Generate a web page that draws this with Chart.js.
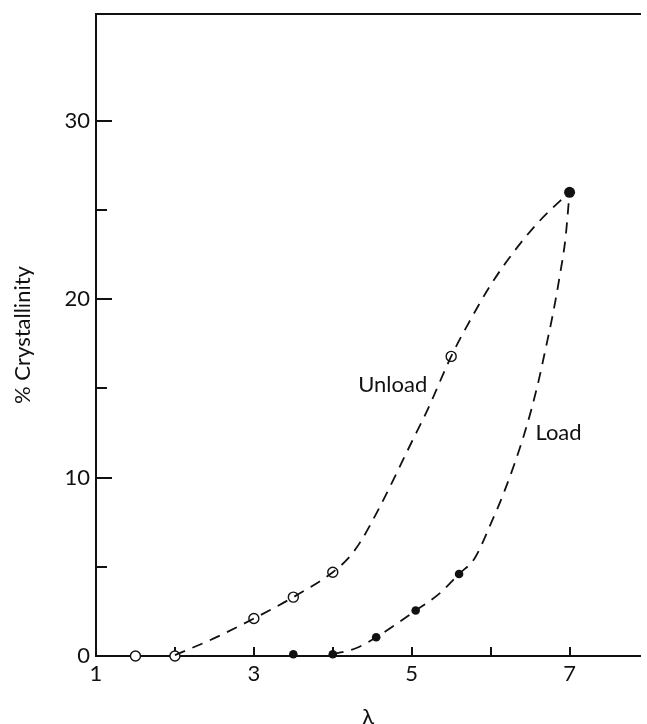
<!DOCTYPE html>
<html>
<head>
<meta charset="utf-8">
<script src="https://cdn.jsdelivr.net/npm/chart.js@4.4.1/dist/chart.umd.min.js"></script>
<style>
  html, body { margin: 0; padding: 0; background: #fff; }
  #wrap { width: 647px; height: 724px; }
</style>
</head>
<body>
<div id="wrap"><canvas id="crystChart" width="647" height="724"></canvas></div>
<script>
// measured points (open = unload, filled = load)
const unloadX = [1.5, 2.0, 3.0, 3.5, 4.0, 5.5];
const unloadY = [0, 0, 2.1, 3.3, 4.7, 16.8];
const loadX = [3.5, 4.0, 4.55, 5.05, 5.6, 7.0];
const loadY = [0.1, 0.1, 1.05, 2.55, 4.6, 26];

// dashed curves as drawn in the figure
const unloadCurveX = [2.0, 2.5, 3.0, 3.5, 4.0, 4.2, 4.35, 4.6, 5.0, 5.2, 5.5, 5.7, 6.0, 6.3, 6.6, 6.85, 7.0];
const unloadCurveY = [0.05, 1.0, 2.1, 3.3, 4.7, 5.5, 6.4, 8.4, 12.0, 13.8, 16.8, 18.5, 20.8, 22.7, 24.3, 25.4, 26];
const loadCurveX = [4.0, 4.3, 4.55, 5.05, 5.35, 5.6, 5.8, 6.0, 6.18, 6.43, 6.59, 6.7, 6.79, 6.875, 6.95, 7.0];
const loadCurveY = [0.1, 0.45, 1.05, 2.55, 3.5, 4.6, 5.5, 7.4, 9.3, 12.5, 15.1, 17.3, 19.2, 21.3, 23.5, 26];

// axis ticks
const xLabelValues = [1, 3, 5, 7];
const xTickValues = [2, 3, 4, 5, 6, 7];
const yLabelValues = [0, 10, 20, 30];
const yTickValues = [5, 10, 15, 20, 25, 30];

// curve names
const curveNames = ['Unload', 'Load'];
const curveNameX = [4.76, 6.86];
const curveNameY = [15.2, 12.5];

const ink = '#111';
const labelFont = { family: 'Lato', size: 22, weight: 'normal' };
const toXY = (xs, ys) => xs.map((x, i) => ({ x: x, y: ys[i] }));

const innerTicks = {
  id: 'innerTicks',
  beforeDatasetsDraw(chart) {
    const { ctx, chartArea, scales: { x, y } } = chart;
    ctx.save();
    ctx.strokeStyle = ink;
    ctx.lineWidth = 2;
    ctx.beginPath();
    xTickValues.forEach(v => {
      const px = Math.round(x.getPixelForValue(v));
      ctx.moveTo(px, chartArea.bottom);
      ctx.lineTo(px, chartArea.bottom - 9);
    });
    yTickValues.forEach(v => {
      const py = Math.round(y.getPixelForValue(v));
      const len = v % 10 === 0 ? 16 : 11;
      ctx.moveTo(chartArea.left, py);
      ctx.lineTo(chartArea.left + len, py);
    });
    ctx.stroke();
    ctx.restore();
  },
  afterDatasetsDraw(chart) {
    const { ctx, scales: { x, y } } = chart;
    ctx.save();
    ctx.fillStyle = ink;
    ctx.font = '22px Lato';
    ctx.textAlign = 'center';
    ctx.textBaseline = 'middle';
    curveNames.forEach((t, i) => {
      ctx.fillText(t, x.getPixelForValue(curveNameX[i]), y.getPixelForValue(curveNameY[i]));
    });
    ctx.restore();
  }
};

const curveStyle = {
  type: 'line',
  borderColor: ink,
  borderWidth: 1.8,
  borderDash: [11, 8],
  pointRadius: 0,
  cubicInterpolationMode: 'monotone',
  fill: false,
  clip: false
};

const ctx = document.getElementById('crystChart').getContext('2d');
new Chart(ctx, {
  type: 'scatter',
  data: {
    datasets: [
      Object.assign({ label: 'Unload curve', data: toXY(unloadCurveX, unloadCurveY) }, curveStyle),
      Object.assign({ label: 'Load curve', data: toXY(loadCurveX, loadCurveY) }, curveStyle),
      {
        label: 'Unload',
        data: toXY(unloadX, unloadY),
        pointRadius: 5,
        pointBackgroundColor: '#fff',
        pointBorderColor: ink,
        pointBorderWidth: 1.4,
        clip: false
      },
      {
        label: 'Load',
        data: toXY(loadX, loadY),
        pointRadius: c => c.dataIndex === loadX.length - 1 ? 5.5 : 4.3,
        pointBackgroundColor: ink,
        pointBorderColor: ink,
        pointBorderWidth: 0,
        clip: false
      }
    ]
  },
  options: {
    responsive: false,
    animation: false,
    layout: { padding: { top: 14, right: 0, left: 0, bottom: 0 } },
    plugins: {
      legend: { display: false },
      tooltip: { enabled: false }
    },
    scales: {
      x: {
        type: 'linear',
        position: 'bottom',
        min: 1,
        max: 7.9,
        grid: { display: false, drawTicks: false },
        border: { display: true, color: ink, width: 2 },
        ticks: { font: labelFont, color: ink, padding: 5, maxRotation: 0, autoSkip: false },
        afterBuildTicks: s => { s.ticks = xLabelValues.map(v => ({ value: v })); },
        afterFit: s => { s.height = 68; s.paddingLeft = 0; s.paddingRight = 0; },
        title: { display: true, text: 'λ', font: labelFont, color: ink, padding: { top: 0, bottom: -6 } }
      },
      x2: {
        type: 'linear',
        position: 'top',
        min: 1,
        max: 7.9,
        grid: { display: false, drawTicks: false },
        border: { display: true, color: ink, width: 2 },
        ticks: { display: false },
        afterFit: s => { s.height = 0; }
      },
      y: {
        min: 0,
        max: 36,
        grid: { display: false, drawTicks: false },
        border: { display: true, color: ink, width: 2 },
        ticks: { font: labelFont, color: ink, padding: 6 },
        afterBuildTicks: s => { s.ticks = yLabelValues.map(v => ({ value: v })); },
        afterFit: s => { s.width = 96; s.paddingTop = 0; s.paddingBottom = 0; },
        title: { display: true, text: '% Crystallinity', font: labelFont, color: ink, padding: { top: 10, bottom: 0 } }
      }
    }
  },
  plugins: [innerTicks]
});
</script>
</body>
</html>
